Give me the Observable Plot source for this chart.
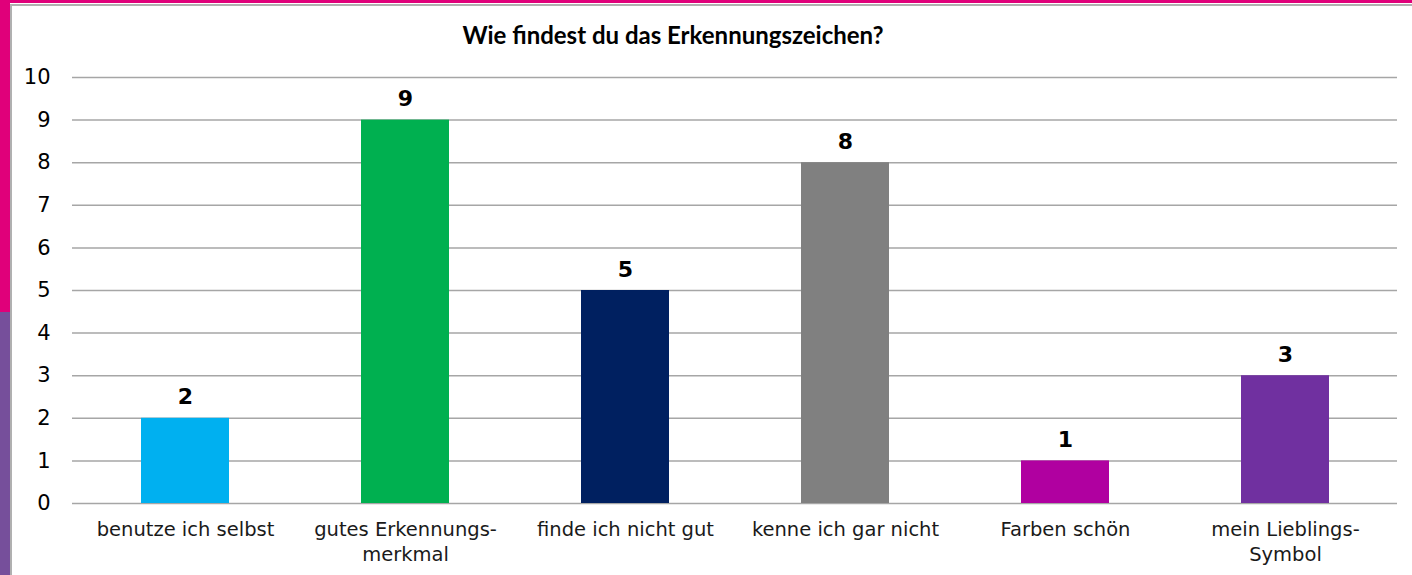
<!DOCTYPE html>
<html>
<head>
<meta charset="utf-8">
<script src="https://cdn.jsdelivr.net/npm/d3@7"></script>
<script src="https://cdn.jsdelivr.net/npm/@observablehq/plot@0.6"></script>
<style>
  html, body { margin: 0; padding: 0; background: #ffffff; }
  #page { position: relative; width: 1412px; height: 575px; overflow: hidden; background: #fff; }
  #pinkTop { position: absolute; left: 0; top: 0; width: 1412px; height: 3px; background: #e0007a; }
  #pinkLeft { position: absolute; left: 0; top: 0; width: 10px; height: 312px; background: #e0007a; }
  #purpleLeft { position: absolute; left: 0; top: 312px; width: 10px; height: 263px; background: #764f9b; }
  #grayTop { position: absolute; left: 10px; top: 4px; width: 1402px; height: 2px; background: #b0b0b0; }
  #grayLeft { position: absolute; left: 10px; top: 4px; width: 2px; height: 571px; background: #b0b0b0; }
  #title { position: absolute; left: 0; width: 1346px; top: 20px; text-align: center;
           font-family: Lato, "Open Sans", sans-serif; font-weight: bold; font-size: 24px; color: #000; }
  #chart { position: absolute; left: 0; top: 0; }
</style>
</head>
<body>
<div id="page">
  <div id="pinkTop"></div>
  <div id="pinkLeft"></div>
  <div id="purpleLeft"></div>
  <div id="grayTop"></div>
  <div id="grayLeft"></div>
  <div id="chart"></div>
  <div id="title">Wie findest du das Erkennungszeichen?</div>
</div>
<script>
const categories = ["benutze ich selbst", "gutes Erkennungs-merkmal", "finde ich nicht gut", "kenne ich gar nicht", "Farben schön", "mein Lieblings-Symbol"];
const categoryLabels = ["benutze ich selbst", "gutes Erkennungs-\nmerkmal", "finde ich nicht gut", "kenne ich gar nicht", "Farben schön", "mein Lieblings-\nSymbol"];
const values = [2, 9, 5, 8, 1, 3];
const barColors = ["#00b0f0", "#00b050", "#002060", "#808080", "#b000a0", "#7030a0"];
const yTicks = [0, 1, 2, 3, 4, 5, 6, 7, 8, 9, 10];

const data = categories.map((c, i) => ({category: c, value: values[i], color: barColors[i], label: categoryLabels[i]}));
const labelOf = new Map(categories.map((c, i) => [c, categoryLabels[i]]));

const chart = Plot.plot({
  width: 1412,
  height: 575,
  marginLeft: 72,
  marginRight: 15,
  marginTop: 77,
  marginBottom: 72,
  style: {fontFamily: "DejaVu Sans, Verdana, sans-serif", fontSize: "19px", color: "#1a1a1a", background: "transparent"},
  x: {domain: categories, range: [74, 1396], paddingInner: 0.6, paddingOuter: 0.3, label: null},
  y: {domain: [0, 10], label: null},
  marks: [
    Plot.ruleY(yTicks, {stroke: "#a6a6a6", strokeWidth: 1.5}),
    Plot.barY(data, {x: "category", y: "value", fill: "color"}),
    Plot.text(data, {x: "category", y: "value", text: d => String(d.value), dy: -21,
      fontWeight: "bold", fontSize: 22, fill: "#000"}),
    Plot.axisY({ticks: yTicks, tickSize: 0, tickPadding: 22, line: true, stroke: "#a6a6a6", fill: "#000", fontSize: 21, label: null}),
    Plot.axisX({tickSize: 0, tickPadding: 15, tickFormat: d => labelOf.get(d), fill: "#1a1a1a", fontSize: 19.5, lineHeight: 1.28, label: null})
  ]
});
document.getElementById("chart").appendChild(chart);
</script>
</body>
</html>
